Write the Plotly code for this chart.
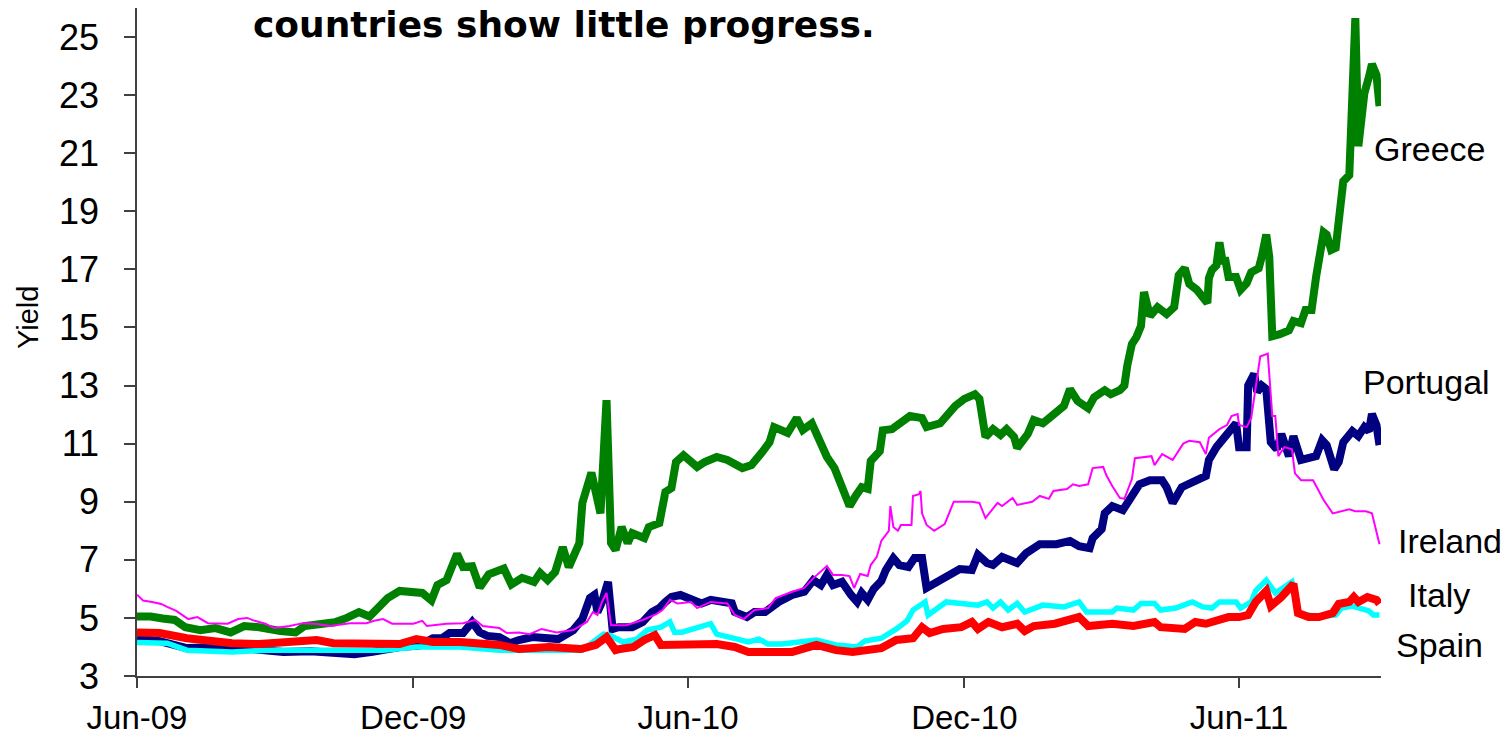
import plotly.graph_objects as go

# ---- 10-year government bond yields (%) ----
greece_dates = [
    "2009-06-30", "2009-07-09", "2009-07-17", "2009-07-25", "2009-08-01", "2009-08-11", "2009-08-21", "2009-08-31",
    "2009-09-09", "2009-09-19", "2009-10-03", "2009-10-13", "2009-10-19", "2009-10-29", "2009-11-08", "2009-11-16",
    "2009-11-24", "2009-12-01", "2009-12-08", "2009-12-13", "2009-12-21", "2009-12-28", "2010-01-05", "2010-01-11",
    "2010-01-15", "2010-01-21", "2010-01-28", "2010-02-01", "2010-02-07", "2010-02-12", "2010-02-18", "2010-02-28",
    "2010-03-05", "2010-03-12", "2010-03-20", "2010-03-24", "2010-03-29", "2010-04-03", "2010-04-08", "2010-04-12",
    "2010-04-19", "2010-04-21", "2010-04-27", "2010-05-03", "2010-05-07", "2010-05-10", "2010-05-13", "2010-05-17",
    "2010-05-21", "2010-05-24", "2010-06-01", "2010-06-04", "2010-06-11", "2010-06-15", "2010-06-19", "2010-06-22",
    "2010-06-27", "2010-07-06", "2010-07-11", "2010-07-19", "2010-07-26", "2010-08-05", "2010-08-11", "2010-08-18",
    "2010-08-23", "2010-08-26", "2010-09-04", "2010-09-10", "2010-09-14", "2010-09-20", "2010-09-25", "2010-09-30",
    "2010-10-05", "2010-10-10", "2010-10-15", "2010-10-19", "2010-10-23", "2010-10-27", "2010-10-29", "2010-11-04",
    "2010-11-06", "2010-11-12", "2010-11-17", "2010-11-24", "2010-12-02", "2010-12-05", "2010-12-14", "2010-12-18",
    "2010-12-24", "2010-12-30", "2011-01-06", "2011-01-09", "2011-01-13", "2011-01-18", "2011-01-23", "2011-01-27",
    "2011-02-01", "2011-02-03", "2011-02-10", "2011-02-14", "2011-02-20", "2011-02-27", "2011-03-06", "2011-03-10",
    "2011-03-15", "2011-03-22", "2011-03-26", "2011-04-02", "2011-04-06", "2011-04-12", "2011-04-15", "2011-04-17",
    "2011-04-20", "2011-04-23", "2011-04-26", "2011-04-28", "2011-05-02", "2011-05-07", "2011-05-13", "2011-05-18",
    "2011-05-21", "2011-05-25", "2011-05-28", "2011-06-02", "2011-06-07", "2011-06-09", "2011-06-10", "2011-06-12",
    "2011-06-15", "2011-06-17", "2011-06-19", "2011-06-21", "2011-06-23", "2011-06-28", "2011-07-01", "2011-07-05",
    "2011-07-08", "2011-07-13", "2011-07-15", "2011-07-18", "2011-07-20", "2011-07-21", "2011-07-22", "2011-07-27",
    "2011-08-02", "2011-08-05", "2011-08-10", "2011-08-13", "2011-08-17", "2011-08-20", "2011-08-22", "2011-08-25",
    "2011-08-27", "2011-08-30", "2011-09-02", "2011-09-05", "2011-09-07", "2011-09-11", "2011-09-12", "2011-09-15",
    "2011-09-17", "2011-09-21", "2011-09-24", "2011-09-26", "2011-09-29", "2011-09-30", "2011-10-01",
]
greece_yield = [
    5.05, 5.05, 4.98, 4.93, 4.68, 4.58, 4.65, 4.50,
    4.72, 4.68, 4.55, 4.50, 4.72, 4.78, 4.85, 5.00,
    5.20, 5.05, 5.45, 5.68, 5.93, 5.88, 5.86, 5.60,
    6.13, 6.30, 7.20, 6.75, 6.78, 6.05, 6.50, 6.70,
    6.15, 6.38, 6.24, 6.55, 6.30, 6.58, 7.44, 6.75,
    7.58, 8.96, 10.00, 8.60, 12.50, 7.58, 7.34, 8.13,
    7.58, 7.92, 7.75, 8.13, 8.27, 9.34, 9.47, 10.37,
    10.60, 10.20, 10.37, 10.54, 10.44, 10.16, 10.26, 10.70,
    11.05, 11.57, 11.37, 11.88, 11.47, 11.70, 11.12, 10.54,
    10.16, 9.40, 8.85, 9.20, 9.50, 9.44, 10.40, 10.74,
    11.46, 11.50, 11.70, 11.95, 11.88, 11.57, 11.70, 11.95,
    12.30, 12.54, 12.70, 12.54, 11.23, 11.50, 11.30, 11.50,
    11.23, 10.85, 11.33, 11.81, 11.70, 12.00, 12.30, 12.88,
    12.47, 12.22, 12.60, 12.84, 12.70, 12.84, 13.00, 13.70,
    14.43, 14.67, 15.05, 16.22, 15.39, 15.70, 15.46, 15.70,
    16.80, 17.04, 16.50, 16.30, 15.90, 15.84, 16.70, 16.98,
    17.14, 17.93, 17.30, 17.30, 16.74, 16.74, 16.30, 16.52,
    16.90, 17.04, 17.43, 18.20, 17.43, 16.40, 14.70, 14.77,
    14.90, 15.22, 15.15, 15.60, 15.60, 16.74, 17.30, 18.28,
    18.20, 17.67, 17.74, 18.97, 20.03, 20.25, 21.70, 25.65,
    21.24, 23.07, 23.62, 24.07, 23.69, 22.69, 22.62,
]

portugal_dates = [
    "2009-06-30", "2009-07-15", "2009-08-02", "2009-08-17", "2009-09-01", "2009-09-19", "2009-10-05", "2009-10-23",
    "2009-11-07", "2009-11-21", "2009-12-03", "2009-12-21", "2010-01-03", "2010-01-12", "2010-01-18", "2010-01-23",
    "2010-02-01", "2010-02-07", "2010-02-12", "2010-02-17", "2010-02-25", "2010-03-04", "2010-03-10", "2010-03-19",
    "2010-04-05", "2010-04-15", "2010-04-21", "2010-04-26", "2010-04-29", "2010-05-01", "2010-05-04", "2010-05-07",
    "2010-05-08", "2010-05-11", "2010-05-15", "2010-05-24", "2010-05-31", "2010-06-06", "2010-06-11", "2010-06-15",
    "2010-06-19", "2010-06-25", "2010-07-03", "2010-07-09", "2010-07-15", "2010-07-22", "2010-07-29", "2010-07-31",
    "2010-08-08", "2010-08-13", "2010-08-20", "2010-08-29", "2010-09-07", "2010-09-15", "2010-09-21", "2010-09-26",
    "2010-09-30", "2010-10-04", "2010-10-10", "2010-10-16", "2010-10-20", "2010-10-23", "2010-10-27", "2010-10-31",
    "2010-11-05", "2010-11-08", "2010-11-13", "2010-11-17", "2010-11-23", "2010-11-27", "2010-12-02", "2010-12-05",
    "2010-12-13", "2010-12-20", "2010-12-27", "2011-01-04", "2011-01-08", "2011-01-14", "2011-01-18", "2011-01-24",
    "2011-02-03", "2011-02-09", "2011-02-18", "2011-03-01", "2011-03-10", "2011-03-16", "2011-03-23", "2011-03-25",
    "2011-03-31", "2011-04-02", "2011-04-07", "2011-04-14", "2011-04-20", "2011-04-25", "2011-05-02", "2011-05-10",
    "2011-05-13", "2011-05-17", "2011-05-23", "2011-05-29", "2011-06-04", "2011-06-08", "2011-06-10", "2011-06-15",
    "2011-06-21", "2011-06-28", "2011-06-30", "2011-07-05", "2011-07-06", "2011-07-10", "2011-07-12", "2011-07-15",
    "2011-07-18", "2011-07-21", "2011-07-25", "2011-07-28", "2011-08-02", "2011-08-05", "2011-08-10", "2011-08-15",
    "2011-08-20", "2011-08-24", "2011-08-27", "2011-09-01", "2011-09-04", "2011-09-07", "2011-09-13", "2011-09-17",
    "2011-09-21", "2011-09-24", "2011-09-26", "2011-09-29", "2011-09-30", "2011-10-01",
]
portugal_yield = [
    4.30, 4.20, 3.96, 3.98, 4.00, 3.90, 3.83, 3.85,
    3.83, 3.75, 3.83, 4.00, 4.05, 4.30, 4.30, 4.48,
    4.48, 4.86, 4.50, 4.38, 4.34, 4.13, 4.24, 4.34,
    4.27, 4.58, 4.96, 5.68, 5.79, 5.20, 5.55, 6.24,
    6.24, 4.62, 4.68, 4.68, 4.86, 5.20, 5.34, 5.55,
    5.72, 5.79, 5.62, 5.50, 5.62, 5.55, 5.50, 5.20,
    5.03, 5.20, 5.20, 5.55, 5.79, 5.90, 6.30, 6.13,
    6.48, 6.13, 6.24, 5.79, 5.55, 5.86, 5.62, 6.00,
    6.27, 6.65, 7.06, 6.82, 6.75, 7.06, 7.06, 6.03,
    6.27, 6.44, 6.68, 6.65, 7.17, 6.89, 6.82, 7.10,
    6.89, 7.23, 7.54, 7.54, 7.65, 7.47, 7.40, 7.75,
    8.06, 8.60, 8.85, 8.71, 9.20, 9.60, 9.74, 9.74,
    9.50, 8.96, 9.50, 9.67, 9.82, 9.89, 10.44, 10.88,
    11.26, 11.70, 10.88, 10.88, 13.00, 13.40, 12.78, 13.00,
    12.88, 11.05, 10.81, 11.33, 10.57, 11.26, 10.44, 10.50,
    10.57, 11.12, 10.95, 10.12, 10.37, 11.05, 11.43, 11.26,
    11.57, 11.43, 12.02, 11.64, 11.12, 10.95,
]

ireland_dates = [
    "2009-06-30", "2009-07-04", "2009-07-10", "2009-07-16", "2009-07-20", "2009-07-26", "2009-08-03", "2009-08-09",
    "2009-08-16", "2009-08-29", "2009-09-05", "2009-09-11", "2009-09-16", "2009-09-23", "2009-09-29", "2009-10-09",
    "2009-10-18", "2009-10-26", "2009-11-05", "2009-11-18", "2009-11-29", "2009-12-04", "2009-12-10", "2009-12-16",
    "2009-12-30", "2010-01-05", "2010-01-08", "2010-01-21", "2010-02-01", "2010-02-09", "2010-02-14", "2010-02-25",
    "2010-03-02", "2010-03-10", "2010-03-17", "2010-03-25", "2010-04-04", "2010-04-15", "2010-04-24", "2010-04-28",
    "2010-05-01", "2010-05-04", "2010-05-07", "2010-05-10", "2010-05-20", "2010-05-31", "2010-06-09", "2010-06-13",
    "2010-06-18", "2010-06-23", "2010-07-02", "2010-07-06", "2010-07-15", "2010-07-26", "2010-07-31", "2010-08-06",
    "2010-08-13", "2010-08-22", "2010-08-27", "2010-09-07", "2010-09-15", "2010-09-21", "2010-09-30", "2010-10-04",
    "2010-10-10", "2010-10-15", "2010-10-18", "2010-10-22", "2010-10-27", "2010-10-29", "2010-11-02", "2010-11-05",
    "2010-11-10", "2010-11-11", "2010-11-13", "2010-11-16", "2010-11-18", "2010-11-25", "2010-11-26", "2010-11-30",
    "2010-12-01", "2010-12-02", "2010-12-05", "2010-12-10", "2010-12-17", "2010-12-19", "2010-12-23", "2011-01-04",
    "2011-01-09", "2011-01-13", "2011-01-18", "2011-01-21", "2011-01-24", "2011-01-31", "2011-02-03", "2011-02-13",
    "2011-02-18", "2011-02-24", "2011-02-27", "2011-03-08", "2011-03-12", "2011-03-16", "2011-03-22", "2011-03-25",
    "2011-04-01", "2011-04-03", "2011-04-07", "2011-04-12", "2011-04-15", "2011-04-20", "2011-04-22", "2011-05-03",
    "2011-05-05", "2011-05-10", "2011-05-17", "2011-05-24", "2011-05-28", "2011-06-04", "2011-06-08", "2011-06-10",
    "2011-06-17", "2011-06-22", "2011-06-25", "2011-06-29", "2011-06-30", "2011-07-05", "2011-07-08", "2011-07-14",
    "2011-07-19", "2011-07-22", "2011-07-24", "2011-07-26", "2011-07-30", "2011-08-04", "2011-08-06", "2011-08-10",
    "2011-08-18", "2011-08-25", "2011-08-31", "2011-09-06", "2011-09-11", "2011-09-15", "2011-09-22", "2011-09-26",
    "2011-09-29", "2011-10-01",
]
ireland_yield = [
    5.80, 5.60, 5.55, 5.48, 5.38, 5.24, 4.96, 5.03,
    4.82, 4.80, 4.96, 5.00, 4.90, 4.80, 4.65, 4.72,
    4.82, 4.80, 4.72, 4.82, 4.82, 4.90, 4.96, 4.80,
    4.80, 4.90, 4.72, 4.80, 4.82, 4.93, 4.72, 4.65,
    4.48, 4.50, 4.44, 4.62, 4.50, 4.58, 4.86, 5.20,
    5.10, 5.55, 5.86, 4.75, 4.75, 4.93, 5.13, 5.27,
    5.62, 5.50, 5.55, 5.34, 5.55, 5.50, 5.10, 4.96,
    5.27, 5.34, 5.68, 5.90, 6.03, 6.37, 6.79, 6.48,
    6.48, 6.44, 6.03, 6.51, 6.44, 6.82, 7.10, 7.65,
    8.00, 8.85, 8.13, 8.00, 8.20, 8.20, 9.20, 9.26,
    9.37, 8.60, 8.20, 8.00, 8.23, 8.47, 9.00, 9.00,
    8.96, 8.44, 8.78, 8.96, 8.85, 9.13, 8.89, 9.00,
    9.20, 9.10, 9.37, 9.44, 9.60, 9.54, 9.60, 10.16,
    10.20, 9.92, 9.54, 9.13, 9.10, 9.78, 10.50, 10.57,
    10.26, 10.64, 10.44, 11.00, 11.10, 11.05, 10.64, 11.20,
    11.50, 11.64, 11.95, 12.02, 11.64, 11.57, 11.88, 14.00,
    14.10, 11.95, 11.95, 10.57, 10.88, 10.81, 9.98, 9.74,
    9.74, 9.06, 8.60, 8.67, 8.74, 8.67, 8.67, 8.60,
    7.92, 7.54,
]

italy_dates = [
    "2009-06-30", "2009-07-15", "2009-08-02", "2009-08-17", "2009-09-01", "2009-09-19", "2009-10-05", "2009-10-27",
    "2009-11-07", "2009-11-29", "2009-12-21", "2010-01-01", "2010-01-12", "2010-01-30", "2010-02-25", "2010-03-10",
    "2010-03-30", "2010-04-20", "2010-04-30", "2010-05-07", "2010-05-13", "2010-05-16", "2010-05-25", "2010-06-01",
    "2010-06-08", "2010-06-12", "2010-06-23", "2010-07-09", "2010-07-19", "2010-07-31", "2010-08-09", "2010-08-22",
    "2010-09-07", "2010-09-23", "2010-10-06", "2010-10-17", "2010-10-27", "2010-11-05", "2010-11-15", "2010-11-26",
    "2010-12-02", "2010-12-07", "2010-12-16", "2010-12-28", "2011-01-04", "2011-01-08", "2011-01-15", "2011-01-24",
    "2011-02-03", "2011-02-08", "2011-02-14", "2011-02-28", "2011-03-16", "2011-03-22", "2011-04-07", "2011-04-21",
    "2011-05-05", "2011-05-09", "2011-05-25", "2011-06-01", "2011-06-08", "2011-06-12", "2011-06-23", "2011-06-30",
    "2011-07-06", "2011-07-11", "2011-07-18", "2011-07-21", "2011-07-28", "2011-08-05", "2011-08-08", "2011-08-15",
    "2011-08-22", "2011-08-31", "2011-09-04", "2011-09-11", "2011-09-14", "2011-09-17", "2011-09-23", "2011-09-29",
    "2011-10-01",
]
italy_yield = [
    4.50, 4.48, 4.30, 4.20, 4.13, 4.10, 4.17, 4.24,
    4.13, 4.13, 4.10, 4.27, 4.17, 4.17, 4.07, 3.93,
    4.00, 3.93, 4.07, 4.34, 3.89, 3.93, 4.00, 4.24,
    4.41, 4.07, 4.07, 4.10, 4.10, 4.00, 3.83, 3.83,
    3.83, 4.07, 3.89, 3.83, 3.90, 3.96, 4.24, 4.30,
    4.68, 4.48, 4.62, 4.68, 4.86, 4.62, 4.86, 4.68,
    4.80, 4.55, 4.72, 4.80, 5.03, 4.72, 4.80, 4.72,
    4.86, 4.68, 4.62, 4.86, 4.80, 4.86, 5.03, 5.03,
    5.10, 5.55, 5.93, 5.41, 5.72, 6.17, 5.17, 5.03,
    5.03, 5.17, 5.48, 5.55, 5.72, 5.55, 5.72, 5.62,
    5.48,
]

spain_dates = [
    "2009-06-30", "2009-07-20", "2009-08-02", "2009-09-01", "2009-09-24", "2009-10-16", "2009-11-07", "2009-12-10",
    "2010-01-01", "2010-01-30", "2010-02-25", "2010-04-21", "2010-05-05", "2010-05-09", "2010-05-18", "2010-05-27",
    "2010-06-03", "2010-06-12", "2010-06-18", "2010-06-21", "2010-06-26", "2010-07-03", "2010-07-09", "2010-07-15",
    "2010-07-19", "2010-07-31", "2010-08-09", "2010-08-16", "2010-08-22", "2010-08-31", "2010-09-13", "2010-09-23",
    "2010-10-06", "2010-10-20", "2010-10-25", "2010-11-05", "2010-11-15", "2010-11-22", "2010-11-26", "2010-12-04",
    "2010-12-06", "2010-12-13", "2010-12-18", "2010-12-28", "2011-01-08", "2011-01-14", "2011-01-18", "2011-01-23",
    "2011-01-28", "2011-02-03", "2011-02-08", "2011-02-20", "2011-03-06", "2011-03-16", "2011-03-21", "2011-04-07",
    "2011-04-10", "2011-04-21", "2011-04-26", "2011-05-05", "2011-05-09", "2011-05-19", "2011-05-30", "2011-06-06",
    "2011-06-12", "2011-06-17", "2011-06-28", "2011-07-01", "2011-07-08", "2011-07-11", "2011-07-18", "2011-07-24",
    "2011-08-04", "2011-08-08", "2011-08-22", "2011-09-02", "2011-09-06", "2011-09-13", "2011-09-19", "2011-09-24",
    "2011-09-27", "2011-10-01",
]
spain_yield = [
    4.15, 4.13, 3.89, 3.83, 3.89, 3.89, 3.89, 3.89,
    4.00, 4.00, 3.89, 3.89, 4.44, 4.41, 4.17, 4.27,
    4.58, 4.68, 4.86, 4.51, 4.51, 4.62, 4.75, 4.80,
    4.44, 4.27, 4.17, 4.27, 4.10, 4.10, 4.17, 4.24,
    4.07, 4.00, 4.20, 4.30, 4.62, 4.90, 5.27, 5.55,
    5.10, 5.38, 5.55, 5.50, 5.44, 5.55, 5.34, 5.55,
    5.27, 5.50, 5.20, 5.44, 5.38, 5.55, 5.20, 5.20,
    5.34, 5.27, 5.50, 5.50, 5.27, 5.34, 5.55, 5.38,
    5.34, 5.55, 5.55, 5.34, 5.55, 5.93, 6.30, 5.86,
    6.24, 5.17, 5.03, 5.10, 5.34, 5.41, 5.34, 5.24,
    5.10, 5.10,
]

tick_dates = ["2009-06-30", "2009-12-30", "2010-06-30", "2010-12-30", "2011-06-30"]
y_ticks = list(range(3, 26, 2))

# Drawing order: heavier lines underneath, Ireland's thin line on top
series = [
    ("Greece", greece_dates, greece_yield, "#008000", 8),
    ("Portugal", portugal_dates, portugal_yield, "#000080", 8),
    ("Spain", spain_dates, spain_yield, "#00FFFF", 5.5),
    ("Italy", italy_dates, italy_yield, "#FF0000", 8),
    ("Ireland", ireland_dates, ireland_yield, "#FF00FF", 2),
]

fig = go.Figure()
for name, d, v, color, width in series:
    fig.add_trace(go.Scatter(
        x=d, y=v, name=name, mode="lines",
        line=dict(color=color, width=width),
        showlegend=False,
    ))

# Country labels to the right of the line ends
labels = [
    ("Greece", 0.9936, 21.16),
    ("Portugal", 0.9847, 13.14),
    ("Ireland", 1.0129, 7.65),
    ("Italy", 1.0209, 5.80),
    ("Spain", 1.0113, 4.07),
]
for text, px, py in labels:
    fig.add_annotation(
        text=text, xref="paper", yref="y", x=px, y=py,
        xanchor="left", yanchor="middle", showarrow=False, borderpad=0,
        font=dict(family="Liberation Sans, Arial", size=34, color="black"),
    )

fig.add_annotation(
    text="countries show little progress.", xref="paper", yref="paper",
    x=0.343, y=0.976, xanchor="center", yanchor="middle", showarrow=False,
    font=dict(family="DejaVu Sans", size=36, color="black", weight="bold"),
)

fig.add_annotation(
    text="Yield", xref="paper", yref="paper", x=-0.087, y=0.537,
    xanchor="center", yanchor="middle", textangle=-90, showarrow=False,
    font=dict(family="Liberation Sans, Arial", size=29, color="black"),
)

axis_color = "#404040"
fig.update_layout(
    width=1506, height=737, autosize=False,
    margin=dict(l=137, r=125, t=8, b=61, pad=0),
    paper_bgcolor="white", plot_bgcolor="white",
    xaxis=dict(
        type="date", range=["2009-06-30", "2011-10-02"],
        tickvals=tick_dates, tickformat="%b-%y", automargin=False,
        showline=True, linecolor=axis_color, linewidth=1.5,
        ticks="outside", ticklen=10, tickwidth=1.5, tickcolor=axis_color,
        showgrid=False, zeroline=False, ticklabelstandoff=2,
        tickfont=dict(family="Liberation Sans, Arial", size=33, color="black"),
    ),
    yaxis=dict(
        range=[3, 26], tickvals=y_ticks, automargin=False,
        showline=True, linecolor=axis_color, linewidth=1.5,
        ticks="outside", ticklen=11, tickwidth=1.5, tickcolor=axis_color,
        showgrid=False, zeroline=False, ticklabelstandoff=18,
        tickfont=dict(family="Liberation Sans, Arial", size=36, color="black"),
    ),
)

fig.write_html("out.html")
